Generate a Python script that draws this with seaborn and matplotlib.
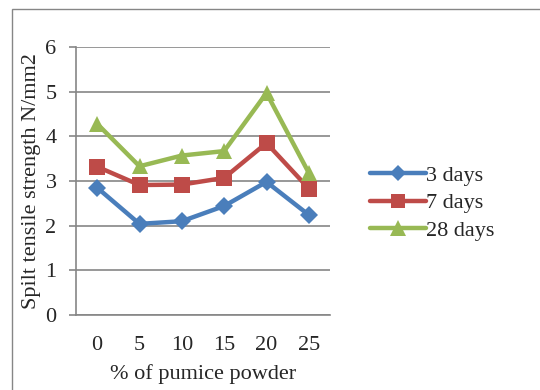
import numpy as np
import pandas as pd
import matplotlib
matplotlib.use("Agg")
import matplotlib.pyplot as plt
import seaborn as sns
from matplotlib.patches import Rectangle
from matplotlib.lines import Line2D

categories = ["0", "5", "10", "15", "20", "25"]
days3 = [2.85, 2.04, 2.10, 2.44, 2.98, 2.24]
days7 = [3.32, 2.91, 2.92, 3.07, 3.85, 2.83]
days28 = [4.28, 3.33, 3.57, 3.67, 4.97, 3.18]
series_names = ["3 days", "7 days", "28 days"]

sns.set_theme(style="white")
plt.rcParams["font.family"] = ["Liberation Serif", "DejaVu Serif"]

pos = np.arange(len(categories))
df = pd.concat([
    pd.DataFrame({"pos": pos, "val": vals, "series": name})
    for name, vals in zip(series_names, [days3, days7, days28])
])

fig = plt.figure(figsize=(5.4, 3.9), dpi=100)
ax = fig.add_axes([76/540, 1-315/390, (330-76)/540, (315-47)/390])

palette = {"3 days": "#4A7EBB", "7 days": "#BE4B48", "28 days": "#98B954"}
markers = {"3 days": "D", "7 days": "s", "28 days": "^"}
sizes_m = {"3 days": 9, "7 days": 11, "28 days": 12}
FS = 16

sns.lineplot(data=df, x="pos", y="val", hue="series", style="series",
             palette=palette, markers=markers, dashes=False, linewidth=3.2,
             markersize=10, markeredgewidth=0, ax=ax, legend=False)
for line, name in zip(ax.lines, series_names):
    line.set_markersize(sizes_m[name])

ax.set_xlim(-0.5, len(categories) - 0.5)
ax.set_ylim(0, 6)
ax.set_yticks(range(0, 7))
ax.set_yticklabels([str(i) for i in range(7)], fontsize=FS)
ax.set_xticks(pos)
ax.set_xticklabels(categories, fontsize=FS)
ax.set_xticks(np.arange(-0.5, len(categories)), minor=True)
ax.tick_params(axis="x", which="major", length=0, pad=15)
ax.tick_params(axis="x", which="minor", length=5, color="#868686", width=1.2, direction="out")
ax.tick_params(axis="y", length=5, color="#868686", width=1.2, direction="out", pad=9, left=True)
ax.grid(axis="y", color="#868686", linewidth=1.2)
ax.set_axisbelow(True)
for s in ["top", "right"]:
    ax.spines[s].set_visible(False)
for s in ["left", "bottom"]:
    ax.spines[s].set_color("#868686")
    ax.spines[s].set_linewidth(1.2)

ax.set_xlabel("% of pumice powder", fontsize=FS, labelpad=7)
ax.set_ylabel("Spilt tensile strength N/mm2", fontsize=FS, labelpad=3)

handles = [Line2D([], [], color=palette[n], marker=markers[n], linewidth=3.2,
                  markersize=sizes_m[n] - 1, markeredgewidth=0) for n in series_names]
fig.legend(handles, series_names, loc="center left", bbox_to_anchor=(370/540, 1-203/390),
           frameon=False, fontsize=FS, handlelength=2.5, handletextpad=0.0,
           labelspacing=0.3, borderaxespad=0, borderpad=0)

fig.patches.append(Rectangle((12/540, -0.1), 1.2, (390-9)/390 + 0.1,
                             transform=fig.transFigure, fill=False,
                             edgecolor="#868686", linewidth=1.0))
fig.savefig("out.png", dpi=100)
